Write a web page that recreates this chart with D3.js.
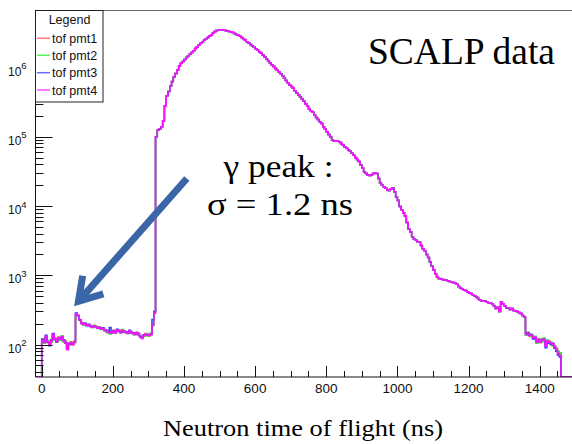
<!DOCTYPE html>
<html>
<head>
<meta charset="utf-8">
<script src="https://cdn.jsdelivr.net/npm/d3@7"></script>
<style>
  body { margin: 0; background: #fff; }
  svg { display: block; }
</style>
</head>
<body>
<svg></svg>
<script>
// histogram binning (ns)
const binStart = 0,
    binWidth = 5;

// tof pmt4 counts per 5 ns bin, 0 .. 1460 ns (one row = 100 ns)
const pmt4 = [
    115, 108, 132, 110, 98, 112, 140, 120, 112, 125, 118, 130, 112, 108, 84, 102, 106, 100, 110, 280,
    265, 225, 205, 195, 200, 188, 192, 185, 178, 186, 180, 172, 176, 168, 170, 160, 158, 150, 146, 150,
    155, 150, 162, 158, 148, 160, 155, 150, 146, 156, 150, 144, 140, 150, 142, 128, 122, 135, 140, 138,
    135, 142, 190, 290, 1.0e5, 1.25e5, 1.3e5, 1.4e5, 1.7e5, 2.8e5, 3.9e5, 4.5e5, 5.4e5, 6.3e5, 7.3e5, 8.2e5, 9.2e5, 1.05e6, 1.15e6, 1.22e6,
    1.3e6, 1.39e6, 1.48e6, 1.56e6, 1.65e6, 1.75e6, 1.88e6, 2.0e6, 2.12e6, 2.24e6, 2.36e6, 2.48e6, 2.6e6, 2.72e6, 2.85e6, 2.98e6, 3.15e6, 3.3e6, 3.42e6, 3.52e6,
    3.52e6, 3.5e6, 3.46e6, 3.42e6, 3.37e6, 3.32e6, 3.27e6, 3.2e6, 3.1e6, 3.0e6, 2.92e6, 2.82e6, 2.72e6, 2.6e6, 2.48e6, 2.36e6, 2.25e6, 2.15e6, 2.05e6, 1.96e6,
    1.87e6, 1.78e6, 1.68e6, 1.6e6, 1.51e6, 1.42e6, 1.33e6, 1.25e6, 1.17e6, 1.1e6, 1.03e6, 9.7e5, 9.1e5, 8.6e5, 8.1e5, 7.6e5, 7.0e5, 6.5e5, 6.0e5, 5.6e5,
    5.3e5, 5.0e5, 4.6e5, 4.3e5, 4.0e5, 3.75e5, 3.5e5, 3.25e5, 3.0e5, 2.75e5, 2.5e5, 2.38e5, 2.25e5, 2.05e5, 1.9e5, 1.78e5, 1.65e5, 1.55e5, 1.4e5, 1.28e5,
    1.18e5, 1.08e5, 9.9e4, 9.0e4, 8.6e4, 8.7e4, 8.6e4, 8.5e4, 8.0e4, 7.6e4, 7.1e4, 6.8e4, 6.5e4, 6.2e4, 5.8e4, 5.4e4, 5.0e4, 4.7e4, 4.4e4, 3.9e4,
    3.5e4, 3.1e4, 2.95e4, 2.8e4, 2.75e4, 2.8e4, 2.95e4, 3.0e4, 2.95e4, 2.5e4, 2.15e4, 2.0e4, 1.9e4, 1.8e4, 1.7e4, 1.68e4, 1.78e4, 1.82e4, 1.6e4, 1.35e4,
    1.2e4, 9.8e3, 8.8e3, 8.0e3, 7.2e3, 5.8e3, 4.6e3, 4.2e3, 3.6e3, 3.3e3, 3.2e3, 3.05e3, 3.0e3, 2.7e3, 2.4e3, 2.25e3, 2.0e3, 1.8e3, 1.55e3, 1.35e3,
    1200, 1050, 940, 900, 880, 870, 855, 850, 830, 810, 800, 785, 770, 740, 690, 655, 640, 620, 600, 575,
    560, 545, 525, 505, 485, 460, 440, 430, 425, 420, 410, 400, 395, 380, 360, 330, 345, 300, 410, 385,
    360, 340, 335, 320, 330, 310, 305, 300, 290, 280, 262, 250, 140, 142, 138, 135, 125, 128, 108, 118,
    110, 116, 120, 95, 112, 108, 104, 100, 92, 84, 74, 70
];

// the other pmts only differ visibly where counts are low
// 0 .. 315 ns
const pmt1Low = [
    118, 112, 128, 106, 102, 116, 135, 124, 108, 128, 122, 126, 116, 104, 90, 100, 110, 98, 106, 272,
    260, 230, 200, 198, 196, 192, 188, 188, 182, 180, 184, 176, 172, 172, 166, 164, 154, 148, 150, 146,
    160, 146, 158, 162, 150, 156, 158, 146, 150, 152, 146, 148, 138, 146, 146, 132, 126, 130, 144, 134,
    138, 138, 196, 280];
const pmt2Low = [
    110, 104, 126, 114, 104, 108, 134, 116, 116, 120, 114, 134, 108, 112, 92, 98, 104, 104, 112, 270,
    258, 222, 210, 192, 196, 190, 188, 182, 182, 190, 176, 170, 180, 164, 166, 164, 152, 154, 142, 152,
    150, 154, 158, 160, 146, 164, 150, 154, 150, 152, 154, 140, 144, 146, 140, 132, 126, 132, 136, 142,
    132, 146, 186, 300];
const pmt3Low = [
    120, 112, 136, 108, 96, 116, 144, 118, 110, 122, 120, 128, 116, 106, 88, 104, 102, 102, 108, 285,
    262, 228, 202, 198, 204, 186, 196, 182, 176, 184, 182, 176, 172, 170, 174, 158, 160, 152, 176, 148,
    158, 148, 166, 154, 152, 158, 152, 152, 144, 160, 148, 146, 142, 148, 138, 130, 126, 138, 138, 140,
    138, 140, 230, 300];
// 1360 .. 1455 ns
const pmt1Tail = [146, 150, 132, 130, 128, 120, 112, 114, 106, 120, 116, 100, 108, 112, 100, 96, 96, 88, 78, 72];
const pmt2Tail = [136, 138, 142, 130, 122, 132, 104, 122, 114, 110, 124, 98, 116, 104, 108, 96, 90, 86, 80, 76];
const pmt3Tail = [142, 146, 136, 140, 120, 126, 110, 114, 112, 118, 118, 90, 110, 104, 100, 104, 88, 80, 70, 66];

const seriesNames = ['tof pmt1', 'tof pmt2', 'tof pmt3', 'tof pmt4'],
    seriesColors = ['#ff5050', '#22ee22', '#3a3aff', '#ff11ff'];

const xTickValues = [0, 200, 400, 600, 800, 1000, 1200, 1400],
    yDecades = [2, 3, 4, 5, 6];

const W = 572, H = 444;

const svg = d3.select('svg')
    .attr('width', W)
    .attr('height', H);

const sans = "'Liberation Sans', Arial, Helvetica, sans-serif",
    serif = "'Liberation Serif', 'Times New Roman', Times, serif";

// frame in pixels
const frameL = 35.5,
    frameT = 10.5,
    frameB = 377,
    frameR = 575;

const x = d3.scaleLinear().domain([0, 1400]).range([41.7, 539.7]);
const y = d3.scaleLog().domain([1e2, 1e6]).range([344.5, 67.5]);

const xMin = x.invert(frameL),
    xMax = x.invert(frameR),
    yFloor = y.invert(frameB);

// build the four series (same bins, middle part identical)
const lowN = pmt1Low.length,
    cut = 272;
const series = [
    pmt1Low.concat(pmt4.slice(lowN, cut), pmt1Tail),
    pmt2Low.concat(pmt4.slice(lowN, cut), pmt2Tail),
    pmt3Low.concat(pmt4.slice(lowN, cut), pmt3Tail),
    pmt4
];

function histPoints(vals) {
    const pts = [[xMin, yFloor]];
    vals.forEach((v, i) => pts.push([binStart + i * binWidth, v]));
    pts.push([binStart + vals.length * binWidth, yFloor]);
    pts.push([xMax, yFloor]);
    return pts;
}

svg.append('clipPath').attr('id', 'plotclip')
    .append('rect')
    .attr('x', frameL).attr('y', frameT)
    .attr('width', frameR - frameL).attr('height', frameB - frameT);

const line = d3.line()
    .x(d => x(d[0]))
    .y(d => y(Math.max(d[1], yFloor)))
    .curve(d3.curveStepAfter);

svg.append('g')
    .attr('clip-path', 'url(#plotclip)')
    .selectAll('path')
    .data(series)
    .join('path')
    .attr('d', d => line(histPoints(d)))
    .attr('fill', 'none')
    .attr('stroke', (d, i) => seriesColors[i])
    .attr('stroke-width', 1.5)
    .attr('stroke-linejoin', 'miter');

// frame lines
svg.append('line')
    .attr('x1', frameL).attr('x2', frameR)
    .attr('y1', frameT).attr('y2', frameT)
    .attr('stroke', '#666').attr('stroke-width', 1);
svg.append('line')
    .attr('x1', frameL).attr('x2', frameL)
    .attr('y1', frameT).attr('y2', frameB)
    .attr('stroke', '#111').attr('stroke-width', 1);
svg.append('line')
    .attr('x1', frameL).attr('x2', frameR)
    .attr('y1', frameB).attr('y2', frameB)
    .attr('stroke', '#111').attr('stroke-width', 1);

// x ticks: major each 200, minor each 50
const xMinor = d3.range(0, 1500, 50);
svg.append('g')
    .selectAll('line')
    .data(xMinor)
    .join('line')
    .attr('x1', d => Math.round(x(d)) + 0.5)
    .attr('x2', d => Math.round(x(d)) + 0.5)
    .attr('y1', frameB)
    .attr('y2', d => frameB - (d % 200 === 0 ? 11 : 6))
    .attr('stroke', '#111');

svg.append('g')
    .selectAll('text')
    .data(xTickValues)
    .join('text')
    .attr('x', d => x(d))
    .attr('y', 392.5)
    .attr('text-anchor', 'middle')
    .attr('font-family', sans)
    .attr('font-size', 13.5)
    .attr('fill', '#111')
    .text(d => d);

// y ticks: decades and 2..9 minors
const yMinor = [];
for (let e = 1; e <= 6; e++) {
    for (let m = 1; m <= 9; m++) {
        const v = m * Math.pow(10, e);
        if (v >= yFloor && y(v) >= frameT) yMinor.push({v: v, major: m === 1});
    }
}
svg.append('g')
    .selectAll('line')
    .data(yMinor)
    .join('line')
    .attr('x1', frameL)
    .attr('x2', d => frameL + (d.major ? 17 : 8))
    .attr('y1', d => Math.round(y(d.v)) + 0.5)
    .attr('y2', d => Math.round(y(d.v)) + 0.5)
    .attr('stroke', '#111');

const yLab = svg.append('g')
    .selectAll('text')
    .data(yDecades)
    .join('text')
    .attr('x', 8)
    .attr('y', d => y(Math.pow(10, d)) + 8)
    .attr('font-family', sans)
    .attr('font-size', 12)
    .attr('fill', '#111');
yLab.append('tspan').text('10');
yLab.append('tspan')
    .attr('dy', -6.5)
    .attr('font-size', 9.5)
    .text(d => d);

// legend
const legend = svg.append('g');
legend.append('rect')
    .attr('x', frameL).attr('y', frameT)
    .attr('width', 67.5).attr('height', 91.5)
    .attr('fill', '#fff')
    .attr('stroke', '#222');
legend.append('text')
    .attr('x', 69.5).attr('y', 23.5)
    .attr('text-anchor', 'middle')
    .attr('font-family', sans)
    .attr('font-size', 12.5)
    .attr('fill', '#111')
    .text('Legend');
const legY = [38.3, 55.3, 72.7, 90];
const entry = legend.selectAll('g.entry')
    .data(seriesNames)
    .join('g')
    .attr('class', 'entry')
    .attr('transform', (d, i) => `translate(0,${legY[i]})`);
entry.append('line')
    .attr('x1', 37).attr('x2', 50)
    .attr('stroke', (d, i) => seriesColors[i])
    .attr('stroke-width', 1.5)
    .attr('opacity', 0.75);
entry.append('text')
    .attr('x', 52).attr('y', 4.5)
    .attr('font-family', sans)
    .attr('font-size', 12.5)
    .attr('fill', '#111')
    .text(d => d);

// annotations
svg.append('text')
    .attr('x', 368).attr('y', 64)
    .attr('font-family', serif)
    .attr('font-size', 38)
    .attr('textLength', 187)
    .attr('lengthAdjust', 'spacingAndGlyphs')
    .text('SCALP data');

svg.append('text')
    .attr('x', 278.5).attr('y', 177)
    .attr('text-anchor', 'middle')
    .attr('font-family', serif)
    .attr('font-size', 31)
    .attr('textLength', 110)
    .attr('lengthAdjust', 'spacingAndGlyphs')
    .text('γ peak :');
svg.append('text')
    .attr('x', 280).attr('y', 215)
    .attr('text-anchor', 'middle')
    .attr('font-family', serif)
    .attr('font-size', 31)
    .attr('textLength', 146)
    .attr('lengthAdjust', 'spacingAndGlyphs')
    .text('σ = 1.2 ns');

svg.append('text')
    .attr('x', 303).attr('y', 436)
    .attr('text-anchor', 'middle')
    .attr('font-family', serif)
    .attr('font-size', 23)
    .attr('textLength', 280)
    .attr('lengthAdjust', 'spacingAndGlyphs')
    .text('Neutron time of flight (ns)');

// arrow pointing at the gamma peak (data coords)
const arrowTail = [408, 2.5e4],
    arrowTip = [94, 370];
const tx = x(arrowTail[0]), ty = y(arrowTail[1]),
    px = x(arrowTip[0]), py = y(arrowTip[1]);
const len = Math.hypot(px - tx, py - ty),
    ux = (px - tx) / len, uy = (py - ty) / len;
const hx = px - ux * 5, hy = py - uy * 5;
const wing = 26, ang = 32 * Math.PI / 180;
function rot(vx, vy, a) {
    return [vx * Math.cos(a) - vy * Math.sin(a), vx * Math.sin(a) + vy * Math.cos(a)];
}
const w1 = rot(-ux, -uy, ang), w2 = rot(-ux, -uy, -ang);
const arrowColor = '#3a66a8';
svg.append('line')
    .attr('x1', tx).attr('y1', ty)
    .attr('x2', hx - ux * 2).attr('y2', hy - uy * 2)
    .attr('stroke', arrowColor)
    .attr('stroke-width', 7);
svg.append('path')
    .attr('d', `M${hx + w1[0] * wing},${hy + w1[1] * wing}L${hx},${hy}L${hx + w2[0] * wing},${hy + w2[1] * wing}`)
    .attr('fill', 'none')
    .attr('stroke', arrowColor)
    .attr('stroke-width', 7)
    .attr('stroke-linejoin', 'miter')
    .attr('stroke-miterlimit', 10);
</script>
</body>
</html>
